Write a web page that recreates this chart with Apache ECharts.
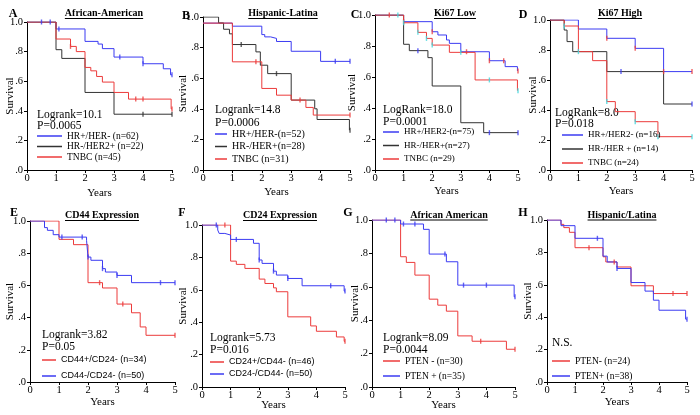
<!DOCTYPE html>
<html><head><meta charset="utf-8">
<script src="https://cdn.jsdelivr.net/npm/echarts@6/dist/echarts.min.js"></script>
<style>html,body{margin:0;padding:0;background:#fff}#c{width:700px;height:415px}</style>
</head><body><div id="c"></div>
<script>
// ---------- shared tick labels ----------
const xTicks = [0, 1, 2, 3, 4, 5];
const yTickLabels = ['.0', '.2', '.4', '.6', '.8', '1.0'];

// ---------- Panel A: African-American ----------
const aBlueT = [0, 1, 2, 2.45, 2.6, 3, 4, 4.7, 4.95, 5];
const aBlueS = [1, 0.953, 0.869, 0.851, 0.82, 0.763, 0.718, 0.684, 0.643, 0.643];
const aBlueC = [0.5, 0.8, 1.1, 3.2, 4, 5];
const aBlackT = [0, 1, 1.2, 2, 3, 5];
const aBlackS = [1, 0.813, 0.754, 0.524, 0.377, 0.377];
const aBlackC = [4, 5];
const aRedT = [0, 1, 1.5, 1.7, 2, 2.2, 2.4, 2.6, 3, 3.5, 4.97, 5];
const aRedS = [1, 0.885, 0.835, 0.80, 0.693, 0.67, 0.632, 0.594, 0.524, 0.479, 0.413, 0.413];
const aRedC = [1.5, 3.75, 4, 5];

// ---------- Panel B: Hispanic-Latina ----------
const bBlueT = [0, 1, 2, 2.1, 2.3, 2.5, 3, 4, 5];
const bBlueS = [0.96, 0.94, 0.885, 0.87, 0.86, 0.84, 0.776, 0.71, 0.71];
const bBlueC = [4.5, 5];
const bBlackT = [0, 0.53, 0.7, 0.9, 1, 1.8, 1.95, 2.2, 3, 3.8, 3.88, 4.98, 5];
const bBlackS = [1, 0.961, 0.92, 0.89, 0.82, 0.772, 0.685, 0.63, 0.457, 0.40, 0.33, 0.26, 0.26];
const bBlackC = [1.3, 2.5, 5];
const bRedT = [0, 1, 2, 2.5, 3, 3.5, 3.75, 5];
const bRedS = [0.96, 0.707, 0.533, 0.489, 0.457, 0.409, 0.359, 0.359];
const bRedC = [1.8, 3.3, 5];

// ---------- Panel C: Ki67 Low ----------
const cBlueT = [0, 1, 2, 2.2, 2.5, 2.6, 3, 4, 4.55, 4.98, 5];
const cBlueS = [1, 0.957, 0.892, 0.871, 0.839, 0.817, 0.763, 0.705, 0.667, 0.639, 0.639];
const cBlueC = [0.5, 1, 2, 3.2, 4, 4.5, 5];
const cBlackT = [0, 1, 1.2, 1.85, 2, 3, 3.8, 5];
const cBlackS = [1, 0.811, 0.77, 0.725, 0.542, 0.305, 0.241, 0.241];
const cBlackC = [1.5, 4, 5];
const cRedT = [0, 1, 1.5, 1.8, 2, 2.6, 3.5, 4.98, 5];
const cRedS = [1, 0.95, 0.888, 0.849, 0.806, 0.759, 0.581, 0.512, 0.512];
const cRedC = [0.8, 1, 1.5, 1.8, 2, 3, 4, 5];

// ---------- Panel D: Ki67 High ----------
const dBlueT = [0, 1, 2, 3, 4, 5];
const dBlueS = [1, 0.94, 0.878, 0.811, 0.656, 0.656];
const dBlueC = [2, 3, 4, 5];
const dBlackT = [0, 0.5, 0.6, 0.8, 2, 4, 5];
const dBlackS = [1, 0.933, 0.856, 0.789, 0.656, 0.44, 0.44];
const dBlackC = [2.5, 5];
const dRedT = [0, 0.5, 1, 1.5, 2, 2.3, 3, 3.8, 5];
const dRedS = [1, 0.96, 0.789, 0.729, 0.456, 0.389, 0.322, 0.222, 0.222];
const dRedC = [0.5, 1, 2, 3, 3.8, 5];

// ---------- Panel E: CD44 Expression ----------
const eRedT = [0, 1, 1.5, 2, 2.5, 3, 3.5, 3.8, 4, 5];
const eRedS = [1, 0.886, 0.853, 0.617, 0.584, 0.484, 0.43, 0.342, 0.29, 0.29];
const eRedC = [2.4, 3.2, 5];
const eBlueT = [0, 0.5, 0.6, 0.8, 1, 1.95, 2, 2.1, 2.5, 2.6, 3, 3.5, 5];
const eBlueS = [1, 0.959, 0.942, 0.915, 0.9, 0.88, 0.776, 0.756, 0.704, 0.683, 0.662, 0.617, 0.617];
const eBlueC = [1.1, 1.8, 2, 2.5, 3, 4.5, 5];

// ---------- Panel F: CD24 Expression ----------
const fRedT = [0, 1, 1.2, 1.5, 2, 2.2, 2.5, 2.6, 3, 3.8, 4, 4.7, 4.97, 5];
const fRedS = [1, 0.777, 0.757, 0.732, 0.666, 0.639, 0.612, 0.588, 0.433, 0.377, 0.344, 0.309, 0.282, 0.282];
const fRedC = [0.8, 5];
const fBlueT = [0, 0.55, 0.6, 0.8, 1, 1.8, 2, 2.1, 2.5, 2.6, 3, 3.5, 4.97, 5];
const fBlueS = [1, 0.969, 0.948, 0.938, 0.911, 0.887, 0.784, 0.763, 0.715, 0.691, 0.67, 0.625, 0.592, 0.592];
const fBlueC = [0.5, 1.2, 2, 2.5, 3, 4.5, 5];

// ---------- Panel G: African American (PTEN) ----------
const gRedT = [0, 1, 1.2, 1.5, 2, 2.3, 2.6, 3, 3.5, 4.7, 5];
const gRedS = [1, 0.78, 0.746, 0.67, 0.526, 0.49, 0.454, 0.306, 0.274, 0.226, 0.226];
const gRedC = [3.8, 5];
const gBlueT = [0, 1, 1.8, 2, 2.6, 3, 4.97, 5];
const gBlueS = [1, 0.976, 0.944, 0.796, 0.75, 0.61, 0.54, 0.54];
const gBlueC = [0.5, 0.8, 1.1, 1.5, 2.55, 3.2, 4, 5];

// ---------- Panel H: Hispanic/Latina (PTEN) ----------
const hRedT = [0, 0.5, 0.6, 0.8, 1, 2, 2.1, 2.5, 3, 3.8, 5];
const hRedS = [1, 0.973, 0.953, 0.924, 0.829, 0.773, 0.741, 0.71, 0.594, 0.546, 0.546];
const hRedC = [1.5, 2.4, 4.5, 5];
const hBlueT = [0, 0.5, 1, 2, 2.15, 2.5, 3, 3.5, 3.8, 4, 4.95, 5];
const hBlueS = [1, 0.965, 0.887, 0.777, 0.741, 0.701, 0.614, 0.561, 0.505, 0.443, 0.388, 0.388];
const hBlueC = [1.8, 2.5, 5];

// ---------- styling ----------
const BLUE = '#3b3bf2', RED = '#ec3b3b', BLACK = '#333333', CYAN = '#3fd6dc';
const SERIF = '"Liberation Serif","Times New Roman",serif';
const SANS = '"Liberation Sans",Arial,sans-serif';

const panels = [
  { letter: 'A', title: 'African-American', grid: { left: 27, top: 22, width: 145, height: 148 },
    letterPos: [13, 14], titlePos: [104, 13.5], yGap: 11.5, xGap: 18,
    stats: ['Logrank=10.1', 'P=0.0065'], statsPos: [37, 115, 10.5],
    legend: { left: 37, row: 136, gap: 10.5, iw: 25, font: SERIF, size: 9.5 },
    curves: [
      { name: 'HR+/HER- (n=62)', T: aBlueT, S: aBlueS, C: aBlueC, color: BLUE, cc: BLUE },
      { name: 'HR-/HER2+ (n=22)', T: aBlackT, S: aBlackS, C: aBlackC, color: BLACK, cc: BLACK },
      { name: 'TNBC (n=45)', T: aRedT, S: aRedS, C: aRedC, color: RED, cc: RED }] },
  { letter: 'B', title: 'Hispanic-Latina', grid: { left: 203, top: 17, width: 147, height: 153 },
    letterPos: [186, 15.5], titlePos: [283, 13.5], yGap: 14.5, xGap: 17,
    stats: ['Logrank=14.8', 'P=0.0006'], statsPos: [215, 110, 13],
    legend: { left: 215, row: 134, gap: 12.5, iw: 12, font: SERIF, size: 10 },
    curves: [
      { name: 'HR+/HER-(n=52)', T: bBlueT, S: bBlueS, C: bBlueC, color: BLUE, cc: BLUE },
      { name: 'HR-/HER+(n=28)', T: bBlackT, S: bBlackS, C: bBlackC, color: BLACK, cc: BLACK },
      { name: 'TNBC (n=31)', T: bRedT, S: bRedS, C: bRedC, color: RED, cc: RED }] },
  { letter: 'C', title: 'Ki67 Low', grid: { left: 375, top: 15, width: 143, height: 155 },
    letterPos: [355, 15], titlePos: [455, 13.5], yGap: 17, xGap: 16,
    stats: ['LogRank=18.0', 'P=0.0001'], statsPos: [383, 110, 12],
    legend: { left: 383, row: 132, gap: 13.5, iw: 16, font: SERIF, size: 9 },
    curves: [
      { name: 'HR+/HER2-(n=75)', T: cBlueT, S: cBlueS, C: cBlueC, color: BLUE, cc: RED },
      { name: 'HR-/HER+(n=27)', T: cBlackT, S: cBlackS, C: cBlackC, color: BLACK, cc: BLUE },
      { name: 'TNBC (n=29)', T: cRedT, S: cRedS, C: cRedC, color: RED, cc: CYAN }] },
  { letter: 'D', title: 'Ki67 High', grid: { left: 550, top: 20, width: 142, height: 150 },
    letterPos: [523, 15], titlePos: [620, 13.5], yGap: 11.5, xGap: 16,
    stats: ['LogRank=8.0', 'P=0.018'], statsPos: [555, 113, 10.5],
    legend: { left: 562, row: 135, gap: 14, iw: 21, font: SERIF, size: 9 },
    curves: [
      { name: 'HR+/HER2- (n=16)', T: dBlueT, S: dBlueS, C: dBlueC, color: BLUE, cc: RED },
      { name: 'HR-/HER + (n=14)', T: dBlackT, S: dBlackS, C: dBlackC, color: BLACK, cc: BLUE },
      { name: 'TNBC (n=24)', T: dRedT, S: dRedS, C: dRedC, color: RED, cc: CYAN }] },
  { letter: 'E', title: 'CD44 Expression', grid: { left: 30, top: 221, width: 145, height: 161 },
    letterPos: [14, 213], titlePos: [102, 215.5], yGap: 14.5, xGap: 15,
    stats: ['Logrank=3.82', 'P=0.05'], statsPos: [42, 335, 12],
    legend: { left: 42, row: 360, gap: 16, iw: 14, font: SANS, size: 9 },
    curves: [
      { name: 'CD44+/CD24- (n=34)', T: eRedT, S: eRedS, C: eRedC, color: RED, cc: RED },
      { name: 'CD44-/CD24- (n=50)', T: eBlueT, S: eBlueS, C: eBlueC, color: BLUE, cc: BLUE }] },
  { letter: 'F', title: 'CD24 Expression', grid: { left: 202, top: 225, width: 143, height: 162 },
    letterPos: [182, 213], titlePos: [280, 215.5], yGap: 13.5, xGap: 13,
    stats: ['Logrank=5.73', 'P=0.016'], statsPos: [210, 338, 12],
    legend: { left: 210, row: 362, gap: 12, iw: 14, font: SANS, size: 9 },
    curves: [
      { name: 'CD24+/CD44- (n=46)', T: fRedT, S: fRedS, C: fRedC, color: RED, cc: RED },
      { name: 'CD24-/CD44- (n=50)', T: fBlueT, S: fBlueS, C: fBlueC, color: BLUE, cc: BLUE }] },
  { letter: 'G', title: 'African American', grid: { left: 372, top: 220, width: 143, height: 167 },
    letterPos: [348, 213], titlePos: [449, 215], yGap: 11.5, xGap: 13,
    stats: ['Logrank=8.09', 'P=0.0044'], statsPos: [383, 338, 12],
    legend: { left: 383, row: 361, gap: 15, iw: 17, font: SERIF, size: 9.5 },
    curves: [
      { name: 'PTEN - (n=30)', T: gRedT, S: gRedS, C: gRedC, color: RED, cc: RED },
      { name: 'PTEN + (n=35)', T: gBlueT, S: gBlueS, C: gBlueC, color: BLUE, cc: BLUE }] },
  { letter: 'H', title: 'Hispanic/Latina', grid: { left: 547, top: 220, width: 140, height: 162 },
    letterPos: [523, 213], titlePos: [622, 215], yGap: 13.5, xGap: 15,
    stats: ['N.S.'], statsPos: [552, 343, 12],
    legend: { left: 552, row: 361, gap: 15, iw: 18, font: SERIF, size: 9.5 },
    curves: [
      { name: 'PTEN- (n=24)', T: hRedT, S: hRedS, C: hRedC, color: RED, cc: RED },
      { name: 'PTEN+ (n=38)', T: hBlueT, S: hBlueS, C: hBlueC, color: BLUE, cc: BLUE }] }
];

function survAt(T, S, t) {
  let v = S[0];
  for (let i = 0; i < T.length; i++) if (T[i] <= t + 1e-9) v = S[i];
  return v;
}

const measureCtx = document.createElement('canvas').getContext('2d');
function textWidth(txt, font) { measureCtx.font = font; return measureCtx.measureText(txt).width; }

const grids = [], xAxes = [], yAxes = [], series = [], legends = [], graphics = [];
panels.forEach((p, i) => {
  grids.push(Object.assign({ containLabel: false }, p.grid));
  xAxes.push({
    type: 'value', gridIndex: i, min: xTicks[0], max: xTicks[xTicks.length - 1], interval: 1,
    name: 'Years', nameLocation: 'middle', nameGap: p.xGap, nameMoveOverlap: false,
    nameTextStyle: { fontFamily: SERIF, fontSize: 11, color: '#000' },
    axisLine: { lineStyle: { color: '#000', width: 1 } },
    axisTick: { length: 3, lineStyle: { color: '#000' } },
    axisLabel: { fontFamily: SERIF, fontSize: 10.5, color: '#000', margin: 3 },
    splitLine: { show: false }
  });
  yAxes.push({
    type: 'value', gridIndex: i, min: 0, max: 1, interval: 0.2,
    name: 'Survival', nameLocation: 'middle', nameGap: p.yGap, nameRotate: 90, nameMoveOverlap: false,
    nameTextStyle: { fontFamily: SERIF, fontSize: 11, color: '#000' },
    axisLine: { show: true, lineStyle: { color: '#000', width: 1 } },
    axisTick: { show: true, length: 3, lineStyle: { color: '#000' } },
    axisLabel: { fontFamily: SERIF, fontSize: 10.5, color: '#000', margin: 4,
      formatter: v => yTickLabels[Math.round(v * 5)] },
    splitLine: { show: false }
  });
  p.curves.forEach(c => {
    series.push({
      type: 'line', name: c.name, xAxisIndex: i, yAxisIndex: i, step: 'end',
      showSymbol: false, symbol: 'none', color: c.color,
      lineStyle: { color: c.color, width: 1 }, itemStyle: { color: c.color },
      data: c.T.map((t, k) => [t, c.S[k]]), z: 3
    });
  });
  p.curves.forEach(c => {
    series.push({
      type: 'scatter', name: c.name + ' censored', xAxisIndex: i, yAxisIndex: i,
      symbol: 'rect', symbolSize: [1.4, 5], itemStyle: { color: c.cc }, z: 4,
      data: c.C.map(t => [t, survAt(c.T, c.S, t)])
    });
  });
  const L = p.legend;
  const lh = 10;
  legends.push({
    data: p.curves.map(c => c.name), orient: 'vertical', left: L.left, top: L.row - lh / 2,
    padding: 0, itemGap: L.gap - lh, itemWidth: L.iw, itemHeight: 1.5, icon: 'rect',
    selectedMode: false,
    textStyle: { fontFamily: L.font, fontSize: L.size, lineHeight: lh, color: '#000' }
  });
  graphics.push({ type: 'text', x: p.letterPos[0], y: p.letterPos[1],
    style: { text: p.letter, font: 'bold 12px ' + SERIF, fill: '#000',
      textAlign: 'center', textVerticalAlign: 'middle', align: 'center', verticalAlign: 'middle' } });
  const tFont = 'bold 10px ' + SERIF;
  graphics.push({ type: 'text', x: p.titlePos[0], y: p.titlePos[1],
    style: { text: p.title, font: tFont, fill: '#000',
      textAlign: 'center', textVerticalAlign: 'middle', align: 'center', verticalAlign: 'middle' } });
  const tw = textWidth(p.title, tFont);
  graphics.push({ type: 'line', shape: { x1: p.titlePos[0] - tw / 2, y1: p.titlePos[1] + 5, x2: p.titlePos[0] + tw / 2, y2: p.titlePos[1] + 5 },
    style: { stroke: '#000', lineWidth: 1 } });
  p.stats.forEach((s, k) => {
    graphics.push({ type: 'text', x: p.statsPos[0], y: p.statsPos[1] + k * p.statsPos[2],
      style: { text: s, font: '11.5px ' + SERIF, fill: '#000',
        textAlign: 'left', textVerticalAlign: 'middle', align: 'left', verticalAlign: 'middle' } });
  });
});

const chart = echarts.init(document.getElementById('c'), null, { renderer: 'canvas' });
chart.setOption({
  animation: false,
  backgroundColor: '#fff',
  grid: grids, xAxis: xAxes, yAxis: yAxes, series: series, legend: legends,
  graphic: graphics
});
</script></body></html>
